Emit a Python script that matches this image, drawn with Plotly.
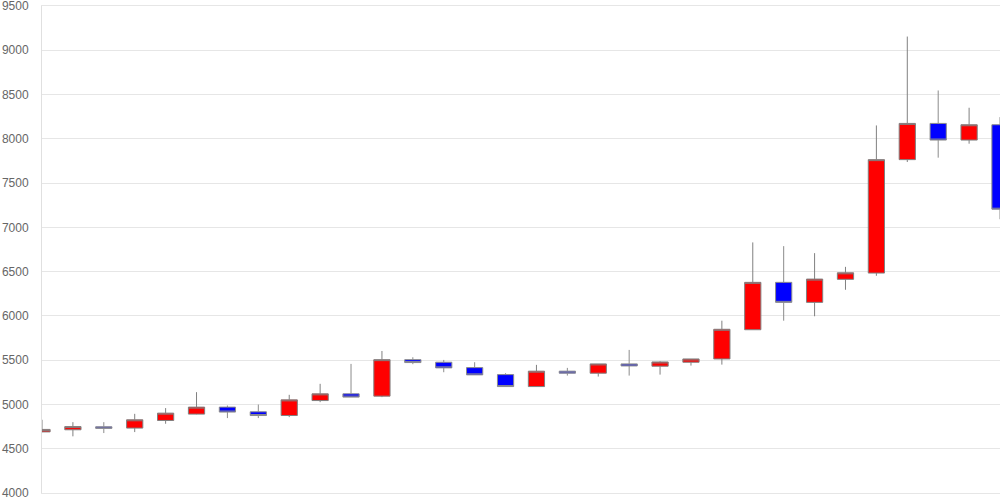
import plotly.graph_objects as go

idx = list(range(32))
opens  = [4690, 4714, 4748, 4733, 4819, 4891, 4970, 4917, 4875, 5044, 5120, 5094, 5506, 5477, 5416, 5337,
          5202, 5376, 5353, 5458, 5432, 5477, 5514, 5844, 6379, 6153, 6413, 6484, 7765, 8174, 7986, 8159]
highs  = [4827, 4800, 4800, 4894, 4959, 5139, 4988, 4999, 5109, 5233, 5458, 5604, 5533, 5503, 5477, 5353,
          5447, 5413, 5458, 5616, 5488, 5514, 5946, 6830, 6788, 6709, 6554, 8151, 9155, 8546, 8351, 8245]
lows   = [4688, 4640, 4677, 4688, 4782, 4888, 4846, 4846, 4857, 5026, 5083, 5083, 5455, 5364, 5334, 5200,
          5200, 5326, 5315, 5326, 5337, 5439, 5450, 5844, 5946, 5996, 6295, 6453, 7738, 7787, 7945, 7092]
closes = [4718, 4750, 4730, 4827, 4902, 4970, 4914, 4875, 5052, 5120, 5083, 5506, 5473, 5413, 5334, 5202,
          5376, 5353, 5458, 5435, 5480, 5514, 5849, 6379, 6153, 6416, 6487, 7765, 8174, 7986, 8159, 7205]
y_ticks = [4000, 4500, 5000, 5500, 6000, 6500, 7000, 7500, 8000, 8500, 9000, 9500]

fig = go.Figure(go.Candlestick(
    x=idx, open=opens, high=highs, low=lows, close=closes,
    increasing=dict(fillcolor="#ff0000", line=dict(color="#808080", width=1)),
    decreasing=dict(fillcolor="#0000ff", line=dict(color="#8c8c8c", width=1)),
    whiskerwidth=0,
    showlegend=False,
    hoverinfo="skip",
))

fig.update_layout(
    width=1000, height=500,
    margin=dict(l=42, r=0, t=6, b=7, autoexpand=False),
    paper_bgcolor="white", plot_bgcolor="white",
    boxgap=0.25,
    xaxis=dict(range=[0, 31], showgrid=False, showticklabels=False, zeroline=False,
               rangeslider=dict(visible=False), showline=True, mirror=True,
               linecolor="#e6e6e6", linewidth=1, ticks="", automargin=False),
    yaxis=dict(range=[4000, 9500], tickvals=y_ticks, ticktext=[str(v) for v in y_ticks],
               showgrid=True, gridcolor="#e6e6e6", gridwidth=1, zeroline=False,
               showline=True, linecolor="#e0e0e0", linewidth=1, automargin=False,
               tickfont=dict(family="Liberation Sans, Arial", size=12, color="#666666"),
               ticks="", ticklabelstandoff=10, ticklabeloverflow="allow"),
)

fig.write_html("out.html", config={"displayModeBar": False},
               post_script="document.body.style.margin='0';document.body.style.overflow='hidden';")
